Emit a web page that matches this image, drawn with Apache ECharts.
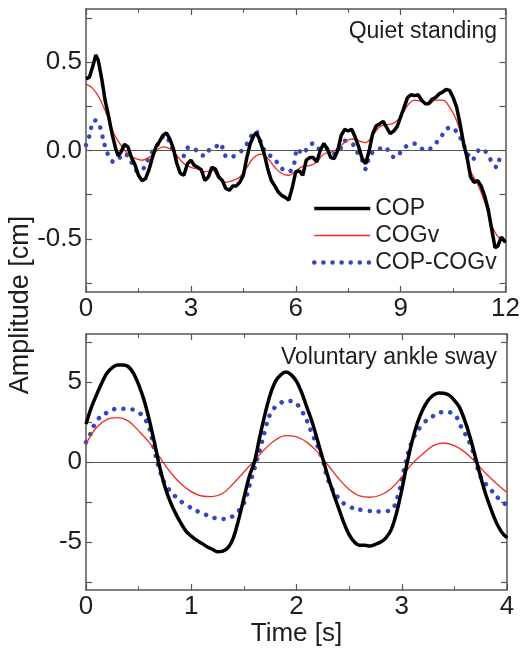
<!DOCTYPE html>
<html>
<head>
<meta charset="utf-8">
<script src="https://cdn.jsdelivr.net/npm/echarts@6/dist/echarts.min.js"></script>
<style>
  html, body { margin: 0; padding: 0; background: #fff; }
  #main { width: 523px; height: 648px; }
</style>
</head>
<body>
<div id="main"></div>
<script>
// quiet standing (top panel), amplitude in cm
const quietCopT = [0, 0.1, 0.2, 0.28, 0.35, 0.45, 0.55, 0.65, 0.75, 0.85, 0.92, 1.0, 1.1, 1.2, 1.3, 1.4, 1.5, 1.6, 1.7, 1.8, 1.9,
  2.0, 2.1, 2.2, 2.3, 2.4, 2.5, 2.6, 2.7, 2.8, 2.9, 3.0, 3.1, 3.2, 3.3, 3.4, 3.5, 3.6, 3.7, 3.8, 3.9,
  4.0, 4.1, 4.2, 4.3, 4.4, 4.5, 4.6, 4.7, 4.8, 4.87, 4.95, 5.0, 5.1, 5.2, 5.3, 5.4, 5.5, 5.6, 5.7, 5.8, 5.9,
  6.0, 6.1, 6.2, 6.3, 6.4, 6.5, 6.6, 6.7, 6.8, 6.9, 7.0, 7.1, 7.2, 7.3, 7.4, 7.5, 7.6, 7.7, 7.8, 7.9,
  8.0, 8.1, 8.2, 8.3, 8.4, 8.5, 8.6, 8.7, 8.8, 8.9, 9.0, 9.1, 9.2, 9.3, 9.4, 9.5, 9.6, 9.7, 9.8, 9.9,
  10.0, 10.1, 10.2, 10.3, 10.4, 10.5, 10.6, 10.7, 10.8, 10.9, 11.0, 11.1, 11.2, 11.3, 11.4, 11.5, 11.6, 11.7, 11.78, 11.88, 12.0];
const quietCop = [0.405, 0.415, 0.48, 0.54, 0.51, 0.405, 0.28, 0.19, 0.09, 0.01, -0.03, -0.01, 0.035, 0.02, -0.04, -0.08, -0.14, -0.17, -0.16, -0.11, -0.04,
  0.02, 0.05, 0.085, 0.1, 0.065, 0.01, -0.075, -0.13, -0.14, -0.075, -0.055, -0.085, -0.095, -0.11, -0.17, -0.15, -0.095, -0.105, -0.15, -0.17,
  -0.215, -0.225, -0.2, -0.2, -0.18, -0.14, -0.04, 0.04, 0.085, 0.1, 0.07, 0.04, -0.02, -0.105, -0.17, -0.2, -0.235, -0.255, -0.265, -0.28, -0.21,
  -0.12, -0.115, -0.14, -0.055, -0.04, -0.04, -0.065, 0.0, 0.04, 0.01, -0.04, -0.045, 0.0, 0.085, 0.12, 0.11, 0.12, 0.075, 0.02, -0.045,
  -0.075, 0.0, 0.095, 0.14, 0.15, 0.165, 0.13, 0.095, 0.11, 0.135, 0.19, 0.245, 0.3, 0.315, 0.31, 0.315, 0.285, 0.265, 0.265, 0.29,
  0.3, 0.32, 0.33, 0.345, 0.34, 0.3, 0.245, 0.15, 0.04, -0.04, -0.15, -0.18, -0.17, -0.2, -0.255, -0.33, -0.44, -0.55, -0.54, -0.49, -0.52];

const quietCogT = [0, 0.2, 0.4, 0.6, 0.8, 1.0, 1.2, 1.4, 1.6, 1.8, 2.0, 2.2, 2.4, 2.6, 2.8, 3.0, 3.2, 3.4, 3.6, 3.8,
  4.0, 4.2, 4.4, 4.6, 4.8, 5.0, 5.2, 5.4, 5.6, 5.8, 6.0, 6.2, 6.4, 6.6, 6.8, 7.0, 7.2, 7.4, 7.6, 7.8,
  8.0, 8.2, 8.4, 8.6, 8.8, 9.0, 9.2, 9.4, 9.6, 9.8, 10.0, 10.2, 10.4, 10.6, 10.8, 11.0, 11.2, 11.4, 11.6, 11.8, 12.0];
const quietCog = [0.375, 0.35, 0.29, 0.2, 0.095, 0.03, -0.02, -0.045, -0.055, -0.04, -0.005, 0.02, 0.01, -0.03, -0.075, -0.095, -0.105, -0.12, -0.11, -0.16,
  -0.18, -0.17, -0.15, -0.095, -0.04, -0.02, -0.045, -0.095, -0.13, -0.14, -0.115, -0.09, -0.085, -0.065, -0.02, -0.01, 0.01, 0.045, 0.065, 0.055,
  0.045, 0.085, 0.135, 0.145, 0.155, 0.19, 0.255, 0.285, 0.275, 0.26, 0.285, 0.285, 0.245, 0.17, 0.04, -0.115, -0.19, -0.29, -0.42, -0.49, -0.5];

const quietDiffT = [0, 0.1, 0.15, 0.25, 0.35, 0.45, 0.55, 0.65, 0.8, 0.95, 1.05, 1.2, 1.35, 1.5, 1.65, 1.8, 1.95, 2.1, 2.25, 2.4,
  2.5, 2.65, 2.8, 2.95, 3.1, 3.25, 3.4, 3.55, 3.7, 3.85, 3.95, 4.1, 4.25, 4.4, 4.55, 4.7, 4.85, 4.95, 5.05, 5.2,
  5.35, 5.5, 5.65, 5.8, 5.95, 6.05, 6.2, 6.35, 6.5, 6.65, 6.8, 6.95, 7.1, 7.25, 7.4, 7.55, 7.7, 7.8, 7.9, 8.0,
  8.1, 8.25, 8.4, 8.55, 8.7, 8.85, 9.0, 9.2, 9.35, 9.55, 9.7, 9.85, 10.0, 10.15, 10.3, 10.45, 10.6, 10.75, 10.85, 10.95,
  11.05, 11.15, 11.3, 11.45, 11.55, 11.65, 11.75, 11.85, 12.0];
const quietDiff = [0.03, 0.085, 0.13, 0.17, 0.16, 0.095, 0.02, -0.03, -0.065, -0.045, -0.02, -0.03, -0.085, -0.12, -0.1, -0.04, 0.01, 0.045, 0.085, 0.045,
  -0.01, -0.045, -0.03, 0.02, 0.01, -0.02, -0.03, 0.01, 0.02, 0.04, -0.02, -0.04, -0.03, -0.01, 0.02, 0.075, 0.11, 0.075, 0.02, -0.02,
  -0.04, -0.075, -0.11, -0.12, -0.075, 0.01, -0.02, 0.02, 0.04, 0.01, 0.02, 0.0, -0.02, 0.0, 0.055, 0.045, 0.02, -0.03, -0.055, -0.105,
  -0.04, 0.0, 0.01, 0.02, -0.02, -0.04, -0.01, 0.03, 0.04, 0.02, 0.0, 0.01, 0.04, 0.075, 0.12, 0.13, 0.105, 0.055, 0.01, -0.03,
  -0.055, -0.02, 0.01, -0.01, -0.045, -0.075, -0.095, -0.04, -0.02];

// voluntary ankle sway (bottom panel)
const swayCopT = [0, 0.05, 0.1, 0.15, 0.2, 0.25, 0.3, 0.35, 0.4, 0.45, 0.5, 0.55, 0.6, 0.65, 0.7, 0.75, 0.8, 0.85, 0.9, 0.95,
  1.0, 1.05, 1.1, 1.15, 1.2, 1.25, 1.3, 1.35, 1.4, 1.45, 1.5, 1.55, 1.6, 1.65, 1.7, 1.75, 1.8, 1.85, 1.9, 1.95,
  2.0, 2.05, 2.1, 2.15, 2.2, 2.25, 2.3, 2.35, 2.4, 2.45, 2.5, 2.55, 2.6, 2.65, 2.7, 2.75, 2.8, 2.85, 2.9, 2.95,
  3.0, 3.05, 3.1, 3.15, 3.2, 3.25, 3.3, 3.35, 3.4, 3.45, 3.5, 3.55, 3.6, 3.65, 3.7, 3.75, 3.8, 3.85, 3.9, 3.95, 4.0];
const swayCop = [2.37, 3.4, 4.2, 4.94, 5.56, 5.9, 6.07, 6.07, 5.97, 5.56, 4.84, 3.9, 2.67, 1.23, -0.3, -1.54, -2.47, -3.19, -3.8, -4.32,
  -4.63, -4.88, -5.08, -5.29, -5.45, -5.6, -5.56, -5.35, -4.73, -3.6, -2.26, -0.93, 0, 1.54, 2.98, 4.2, 5.04, 5.45, 5.62, 5.45,
  5.04, 4.32, 3.4, 2.47, 1.34, 0.2, -0.93, -1.95, -2.88, -3.8, -4.53, -5.0, -5.2, -5.2, -5.25, -5.14, -5.0, -4.73, -4.22, -3.19,
  -1.75, -0.1, 1.34, 2.47, 3.29, 3.85, 4.18, 4.32, 4.3, 4.18, 3.85, 3.4, 2.57, 1.54, 0.31, -0.93, -2.06, -2.98, -3.8, -4.38, -4.73];

const swayCogT = [0, 0.1, 0.2, 0.3, 0.4, 0.5, 0.6, 0.7, 0.8, 0.9, 1.0, 1.1, 1.2, 1.3, 1.4, 1.5, 1.6, 1.7, 1.8, 1.9,
  2.0, 2.1, 2.2, 2.3, 2.4, 2.5, 2.6, 2.7, 2.8, 2.9, 3.0, 3.1, 3.2, 3.3, 3.4, 3.5, 3.6, 3.7, 3.8, 3.9, 4.0];
const swayCog = [1.13, 2.16, 2.67, 2.78, 2.57, 1.95, 1.23, 0.31, -0.62, -1.34, -1.85, -2.12, -2.16, -1.95, -1.34, -0.62, 0.1, 0.82, 1.38, 1.65,
  1.58, 1.23, 0.62, -0.2, -1.03, -1.71, -2.12, -2.2, -2.06, -1.65, -0.93, -0.1, 0.51, 1.03, 1.19, 1.03, 0.62, 0, -0.72, -1.34, -1.91];

const swayDiffT = [0, 0.05, 0.1, 0.2, 0.3, 0.4, 0.5, 0.55, 0.6, 0.65, 0.7, 0.75, 0.85, 0.95, 1.1, 1.3, 1.4, 1.5, 1.55, 1.6,
  1.65, 1.7, 1.75, 1.85, 1.95, 2.05, 2.15, 2.25, 2.3, 2.4, 2.5, 2.65, 2.8, 2.9, 2.97, 3.02, 3.1, 3.2, 3.3, 3.4,
  3.5, 3.55, 3.65, 3.7, 3.75, 3.85, 3.95, 4.0];
const swayDiff = [1.23, 1.85, 2.57, 3.09, 3.33, 3.33, 3.09, 2.78, 2.16, 0.72, -0.51, -1.34, -2.16, -2.67, -3.19, -3.56, -3.35, -2.57, -1.54, -0.41,
  0.72, 1.95, 2.98, 3.7, 3.81, 3.19, 1.75, 0.1, -1.13, -2.26, -2.78, -3.02, -3.09, -2.98, -1.95, -0.51, 1.34, 2.37, 2.88, 3.13,
  2.98, 2.37, 1.13, 0.1, -0.93, -1.75, -2.47, -2.67];

const quietTicksY = [-0.75, -0.5, -0.25, 0, 0.25, 0.5, 0.75];
const quietLabelsY = [-0.5, 0, 0.5];
const swayTicksY = [-7.5, -5, -2.5, 0, 2.5, 5, 7.5];
const swayLabelsY = [-5, 0, 5];

const pairs = (ts, vs) => ts.map((t, i) => [t, vs[i]]);

const FONT = '"Liberation Sans", Arial, sans-serif';
const INK = '#1e1e1e';
const FRAME = '#555';
const COP_COLOR = '#000';
const COG_COLOR = '#ee2d24';
const DIFF_COLOR = '#3447c0';

const chart = echarts.init(document.getElementById('main'), null, { renderer: 'canvas' });

function xAxisPair (grid, max, interval, showLabels) {
  const base = {
    gridIndex: grid, type: 'value', min: 0, max: max, interval: interval,
    axisLine: { show: true, onZero: false, lineStyle: { color: FRAME, width: 1.5 } },
    axisTick: { show: true, inside: true, length: 6, lineStyle: { color: FRAME, width: 1.2 } },
    minorTick: { show: true, splitNumber: 2, length: 4, lineStyle: { color: FRAME, width: 1 } },
    splitLine: { show: false }
  };
  return [
    Object.assign({}, base, {
      position: 'bottom',
      axisLabel: { show: showLabels, margin: 4, fontSize: 26, color: INK, fontFamily: FONT }
    }),
    Object.assign({}, base, { position: 'top', axisLabel: { show: false } })
  ];
}

function yAxisPair (grid, lim, ticks, labels, digits) {
  const base = {
    gridIndex: grid, type: 'value', min: -lim, max: lim,
    axisLine: { show: true, onZero: false, lineStyle: { color: FRAME, width: 1.5 } },
    axisTick: { show: true, inside: true, length: 6, customValues: ticks, lineStyle: { color: FRAME, width: 1.2 } },
    splitLine: { show: false }
  };
  return [
    Object.assign({}, base, {
      position: 'left',
      axisLabel: {
        customValues: labels, margin: 4, fontSize: 26, color: INK, fontFamily: FONT,
        formatter: v => v.toFixed(digits)
      }
    }),
    Object.assign({}, base, { position: 'right', axisLabel: { show: false } })
  ];
}

const xs = xAxisPair(0, 12, 3, true).concat(xAxisPair(1, 4, 1, true));
xs[2].name = 'Time [s]';
xs[2].nameLocation = 'middle';
xs[2].nameGap = 24;
xs[2].nameTextStyle = { fontSize: 26, color: INK, fontFamily: FONT };

const ys = yAxisPair(0, 0.8, quietTicksY, quietLabelsY, 1).concat(yAxisPair(1, 8, swayTicksY, swayLabelsY, 0));

const zeroLine = {
  silent: true, symbol: 'none', label: { show: false },
  lineStyle: { color: '#555', width: 1.2, type: 'solid' },
  data: [{ yAxis: 0 }]
};

function lineSeries (name, data, xi, yi, style, smooth, z) {
  return {
    name: name, type: 'line', xAxisIndex: xi, yAxisIndex: yi, data: data,
    symbol: 'none', showSymbol: false, smooth: smooth, lineStyle: style,
    itemStyle: { color: style.color }, z: z, animation: false
  };
}

const copStyle = { color: COP_COLOR, width: 3.5 };
const cogStyle = { color: COG_COLOR, width: 1.3 };
const diffStyle = { color: DIFF_COLOR, width: 4.5, type: [0.1, 9], cap: 'round' };

const option = {
  backgroundColor: '#fff',
  animation: false,
  grid: [
    { left: 86, top: 9, width: 421, height: 283 },
    { left: 86, top: 334, width: 421, height: 261 }
  ],
  xAxis: xs,
  yAxis: ys,
  legend: {
    orient: 'vertical', left: 307, top: 192,
    itemWidth: 56, itemHeight: 14, itemGap: 4,
    data: ['COP', 'COGv', 'COP-COGv'],
    itemStyle: { opacity: 0, borderWidth: 0 },
    lineStyle: { width: 'inherit' },
    textStyle: { fontSize: 23, color: INK, fontFamily: FONT, lineHeight: 21 },
    selectedMode: false
  },
  graphic: [
    { type: 'text', right: 26, top: 20,
      style: { text: 'Quiet standing', fontSize: 23, fill: INK, fontFamily: FONT } },
    { type: 'text', right: 26, top: 346,
      style: { text: 'Voluntary ankle sway', fontSize: 23, fill: INK, fontFamily: FONT } },
    { type: 'text', x: 21, y: 305, rotation: Math.PI / 2,
      style: { text: 'Amplitude [cm]', fontSize: 27, fill: INK, fontFamily: FONT, align: 'center', verticalAlign: 'middle' } }
  ],
  series: [
    Object.assign(lineSeries('COP', pairs(quietCopT, quietCop), 0, 0, copStyle, false, 5), { markLine: zeroLine }),
    lineSeries('COGv', pairs(quietCogT, quietCog), 0, 0, cogStyle, 0.4, 4),
    lineSeries('COP-COGv', pairs(quietDiffT, quietDiff), 0, 0, diffStyle, 0.4, 3),
    Object.assign(lineSeries('COP', pairs(swayCopT, swayCop), 2, 2, copStyle, 0.3, 5), { markLine: zeroLine }),
    lineSeries('COGv', pairs(swayCogT, swayCog), 2, 2, cogStyle, 0.4, 4),
    lineSeries('COP-COGv', pairs(swayDiffT, swayDiff), 2, 2, diffStyle, 0.4, 3)
  ]
};

chart.setOption(option);
</script>
</body>
</html>
